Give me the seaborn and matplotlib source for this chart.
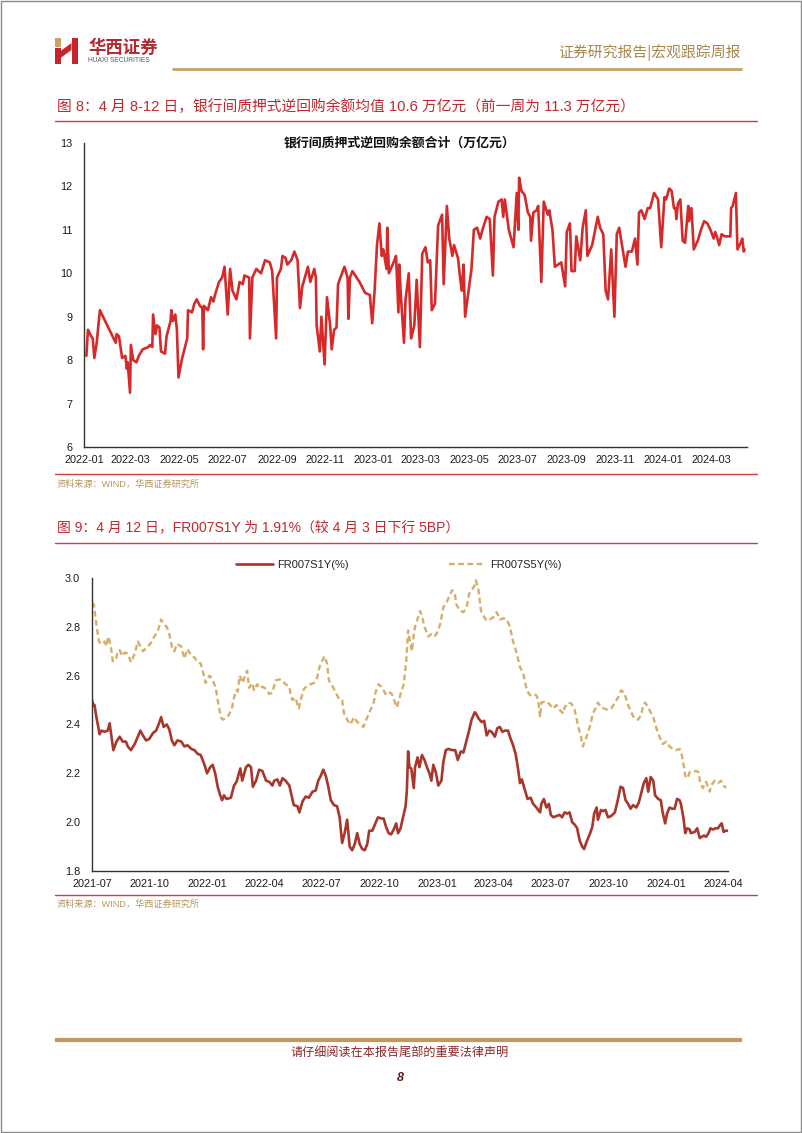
import matplotlib
matplotlib.use("Agg")
import matplotlib.pyplot as plt
import matplotlib.dates as mdates
from matplotlib.patches import Rectangle, Polygon
import seaborn as sns
import pandas as pd
import numpy as np

# ---------------- data: chart 1 (银行间质押式逆回购余额合计, 万亿元) ----------------
repo_dates = [
    "2022-01-04", "2022-01-06", "2022-01-10", "2022-01-12", "2022-01-14", "2022-01-17", "2022-01-21",
    "2022-02-10", "2022-02-11", "2022-02-14", "2022-02-18", "2022-02-22", "2022-02-24", "2022-02-25",
    "2022-02-28", "2022-03-01", "2022-03-04", "2022-03-08", "2022-03-11", "2022-03-16", "2022-03-23",
    "2022-03-25", "2022-03-28", "2022-03-29", "2022-04-01", "2022-04-03", "2022-04-06", "2022-04-08",
    "2022-04-13", "2022-04-15", "2022-04-20", "2022-04-21", "2022-04-23", "2022-04-26", "2022-04-28",
    "2022-04-30", "2022-05-04", "2022-05-11", "2022-05-12", "2022-05-17", "2022-05-20", "2022-05-23",
    "2022-05-27", "2022-05-30", "2022-05-31", "2022-06-01", "2022-06-06", "2022-06-10", "2022-06-13",
    "2022-06-15", "2022-06-20", "2022-06-24", "2022-06-27", "2022-07-01", "2022-07-04", "2022-07-07",
    "2022-07-12", "2022-07-16", "2022-07-20", "2022-07-22", "2022-07-28", "2022-07-29", "2022-08-01",
    "2022-08-06", "2022-08-12", "2022-08-17", "2022-08-23", "2022-08-26", "2022-08-31", "2022-09-01",
    "2022-09-06", "2022-09-08", "2022-09-12", "2022-09-14", "2022-09-19", "2022-09-23", "2022-09-27",
    "2022-09-30", "2022-10-03", "2022-10-10", "2022-10-13", "2022-10-18", "2022-10-20", "2022-10-21",
    "2022-10-25", "2022-10-27", "2022-10-31", "2022-11-03", "2022-11-07", "2022-11-09", "2022-11-12",
    "2022-11-15", "2022-11-17", "2022-11-20", "2022-11-25", "2022-11-29", "2022-11-30", "2022-12-02",
    "2022-12-05", "2022-12-14", "2022-12-21", "2022-12-27", "2022-12-30", "2023-01-02", "2023-01-05",
    "2023-01-08", "2023-01-11", "2023-01-13", "2023-01-17", "2023-01-18", "2023-01-20", "2023-01-27",
    "2023-01-29", "2023-02-01", "2023-02-02", "2023-02-04", "2023-02-08", "2023-02-10", "2023-02-14",
    "2023-02-17", "2023-02-21", "2023-02-24", "2023-02-28", "2023-03-03", "2023-03-07", "2023-03-10",
    "2023-03-13", "2023-03-15", "2023-03-19", "2023-03-23", "2023-03-28", "2023-03-30", "2023-04-03",
    "2023-04-06", "2023-04-10", "2023-04-12", "2023-04-17", "2023-04-20", "2023-04-22", "2023-04-24",
    "2023-04-26", "2023-05-04", "2023-05-07", "2023-05-11", "2023-05-15", "2023-05-17", "2023-05-23",
    "2023-05-27", "2023-05-31", "2023-06-02", "2023-06-07", "2023-06-11", "2023-06-13", "2023-06-15",
    "2023-06-20", "2023-06-26", "2023-06-30", "2023-07-02", "2023-07-03", "2023-07-06", "2023-07-10",
    "2023-07-14", "2023-07-17", "2023-07-18", "2023-07-21", "2023-07-25", "2023-07-27", "2023-07-31",
    "2023-08-03", "2023-08-08", "2023-08-10", "2023-08-14", "2023-08-17", "2023-08-21", "2023-08-25",
    "2023-08-30", "2023-09-01", "2023-09-05", "2023-09-07", "2023-09-11", "2023-09-13", "2023-09-18",
    "2023-09-21", "2023-09-25", "2023-09-27", "2023-10-03", "2023-10-10", "2023-10-13", "2023-10-17",
    "2023-10-20", "2023-10-23", "2023-10-27", "2023-10-31", "2023-11-03", "2023-11-06", "2023-11-10",
    "2023-11-14", "2023-11-17", "2023-11-22", "2023-11-26", "2023-11-29", "2023-12-01", "2023-12-04",
    "2023-12-08", "2023-12-12", "2023-12-15", "2023-12-20", "2023-12-25", "2023-12-29", "2024-01-02",
    "2024-01-04", "2024-01-08", "2024-01-11", "2024-01-14", "2024-01-16", "2024-01-17", "2024-01-19",
    "2024-01-22", "2024-01-25", "2024-01-28", "2024-02-01", "2024-02-02", "2024-02-05", "2024-02-08",
    "2024-02-13", "2024-02-17", "2024-02-21", "2024-02-25", "2024-02-29", "2024-03-04", "2024-03-06",
    "2024-03-08", "2024-03-11", "2024-03-14", "2024-03-18", "2024-03-25", "2024-03-26", "2024-03-28",
    "2024-04-01", "2024-04-03", "2024-04-07", "2024-04-09", "2024-04-11", "2024-04-12",
]
repo_values = [
    8.10, 8.70, 8.55, 8.50, 8.05, 8.40, 9.15,
    8.40, 8.60, 8.55, 8.05, 8.10, 7.80, 7.95,
    7.25, 8.35, 8.00, 7.95, 8.10, 8.25, 8.30,
    8.35, 8.30, 9.05, 8.60, 8.80, 8.75, 8.20,
    8.15, 8.55, 8.90, 9.15, 8.90, 9.05, 8.70,
    7.60, 8.00, 8.50, 9.15, 9.10, 9.30, 9.40,
    9.25, 9.20, 8.25, 9.25, 9.15, 9.45, 9.35,
    9.50, 9.80, 9.90, 10.15, 9.05, 10.10, 9.60,
    9.40, 9.80, 9.75, 9.95, 9.90, 8.50, 9.90,
    10.10, 10.00, 10.30, 10.25, 10.05, 8.50, 9.90,
    10.10, 10.40, 10.35, 10.20, 10.30, 10.50, 10.30,
    9.20, 9.70, 10.15, 9.80, 10.10, 9.90, 8.80,
    8.20, 9.00, 7.90, 9.45, 8.80, 8.25, 8.70,
    8.75, 9.75, 9.90, 10.15, 9.90, 8.95, 9.90,
    10.05, 9.80, 9.55, 9.50, 8.85, 9.60, 10.65,
    11.15, 10.40, 10.55, 10.10, 11.05, 10.00, 10.30,
    10.40, 9.10, 10.20, 9.50, 8.40, 9.40, 10.00,
    8.50, 8.80, 9.85, 8.30, 10.45, 10.60, 10.25,
    10.30, 9.15, 9.30, 11.10, 11.35, 9.75, 11.55,
    10.80, 10.40, 10.65, 10.35, 9.85, 9.60, 10.20,
    9.00, 10.10, 11.00, 11.05, 10.80, 10.95, 11.30,
    11.25, 9.95, 11.30, 11.65, 11.70, 11.30, 11.70,
    11.00, 10.60, 11.85, 11.00, 12.20, 11.90, 11.80,
    11.40, 11.30, 10.75, 11.40, 11.45, 11.55, 9.80,
    11.65, 11.35, 11.45, 11.00, 10.15, 10.20, 10.25,
    9.70, 10.95, 11.15, 10.05, 10.05, 10.85, 10.30,
    11.05, 11.45, 10.40, 10.65, 11.30, 11.05, 10.90,
    9.60, 9.40, 10.55, 9.00, 10.90, 11.05, 10.60,
    10.15, 10.50, 10.50, 10.80, 10.20, 11.40, 11.45,
    11.25, 11.50, 11.50, 11.85, 11.70, 10.60, 11.75,
    11.70, 11.95, 11.90, 11.50, 11.50, 11.25, 11.60,
    11.70, 10.75, 10.70, 11.55, 11.20, 11.50, 10.55,
    10.75, 11.00, 11.20, 11.15, 11.00, 10.80, 10.95,
    10.85, 10.65, 10.90, 10.85, 10.85, 11.50, 11.55,
    11.85, 10.55, 10.70, 10.80, 10.50, 10.55,
]

# ---------------- data: chart 2 (FR007 swaps, %) ----------------
s1y_dates = [
    "2021-07-01", "2021-07-03", "2021-07-05", "2021-07-08", "2021-07-11", "2021-07-13", "2021-07-16",
    "2021-07-21", "2021-07-26", "2021-07-29", "2021-08-01", "2021-08-04", "2021-08-09", "2021-08-14",
    "2021-08-19", "2021-08-24", "2021-08-27", "2021-09-01", "2021-09-07", "2021-09-12", "2021-09-16",
    "2021-09-20", "2021-09-25", "2021-09-30", "2021-10-06", "2021-10-11", "2021-10-15", "2021-10-19",
    "2021-10-23", "2021-10-28", "2021-11-01", "2021-11-05", "2021-11-09", "2021-11-14", "2021-11-20",
    "2021-11-25", "2021-11-30", "2021-12-06", "2021-12-11", "2021-12-16", "2021-12-21", "2021-12-27",
    "2021-12-31", "2022-01-05", "2022-01-09", "2022-01-13", "2022-01-17", "2022-01-21", "2022-01-24",
    "2022-01-27", "2022-01-31", "2022-02-07", "2022-02-12", "2022-02-16", "2022-02-22", "2022-02-25",
    "2022-03-03", "2022-03-07", "2022-03-11", "2022-03-14", "2022-03-19", "2022-03-24", "2022-03-29",
    "2022-04-04", "2022-04-09", "2022-04-14", "2022-04-17", "2022-04-22", "2022-04-26", "2022-04-30",
    "2022-05-05", "2022-05-11", "2022-05-15", "2022-05-18", "2022-05-24", "2022-05-27", "2022-06-01",
    "2022-06-06", "2022-06-11", "2022-06-17", "2022-06-22", "2022-06-26", "2022-06-30", "2022-07-04",
    "2022-07-08", "2022-07-12", "2022-07-16", "2022-07-21", "2022-07-26", "2022-07-30", "2022-08-03",
    "2022-08-07", "2022-08-11", "2022-08-15", "2022-08-19", "2022-08-23", "2022-08-27", "2022-08-31",
    "2022-09-04", "2022-09-08", "2022-09-12", "2022-09-15", "2022-09-20", "2022-09-25", "2022-09-29",
    "2022-10-04", "2022-10-08", "2022-10-12", "2022-10-16", "2022-10-20", "2022-10-25", "2022-10-28",
    "2022-10-31", "2022-11-04", "2022-11-07", "2022-11-12", "2022-11-14", "2022-11-16", "2022-11-18",
    "2022-11-21", "2022-11-25", "2022-11-27", "2022-12-01", "2022-12-04", "2022-12-08", "2022-12-12",
    "2022-12-16", "2022-12-20", "2022-12-23", "2022-12-26", "2022-12-30", "2023-01-03", "2023-01-08",
    "2023-01-11", "2023-01-15", "2023-01-19", "2023-01-25", "2023-01-30", "2023-02-03", "2023-02-08",
    "2023-02-12", "2023-02-17", "2023-02-21", "2023-02-25", "2023-03-02", "2023-03-04", "2023-03-08",
    "2023-03-13", "2023-03-17", "2023-03-21", "2023-03-25", "2023-03-29", "2023-04-03", "2023-04-07",
    "2023-04-11", "2023-04-15", "2023-04-19", "2023-04-24", "2023-04-27", "2023-05-02", "2023-05-06",
    "2023-05-09", "2023-05-13", "2023-05-16", "2023-05-21", "2023-05-25", "2023-05-30", "2023-06-03",
    "2023-06-08", "2023-06-14", "2023-06-16", "2023-06-20", "2023-06-24", "2023-06-28", "2023-07-01",
    "2023-07-05", "2023-07-10", "2023-07-15", "2023-07-19", "2023-07-23", "2023-07-27", "2023-07-31",
    "2023-08-04", "2023-08-08", "2023-08-12", "2023-08-16", "2023-08-20", "2023-08-23", "2023-08-27",
    "2023-09-01", "2023-09-05", "2023-09-08", "2023-09-12", "2023-09-14", "2023-09-19", "2023-09-22",
    "2023-09-26", "2023-09-30", "2023-10-05", "2023-10-11", "2023-10-16", "2023-10-20", "2023-10-24",
    "2023-10-28", "2023-11-01", "2023-11-05", "2023-11-09", "2023-11-14", "2023-11-18", "2023-11-22",
    "2023-11-26", "2023-11-30", "2023-12-03", "2023-12-07", "2023-12-11", "2023-12-14", "2023-12-19",
    "2023-12-23", "2023-12-26", "2023-12-30", "2024-01-02", "2024-01-06", "2024-01-10", "2024-01-14",
    "2024-01-18", "2024-01-22", "2024-01-24", "2024-01-28", "2024-01-31", "2024-02-03", "2024-02-07",
    "2024-02-09", "2024-02-15", "2024-02-19", "2024-02-23", "2024-02-26", "2024-03-01", "2024-03-04",
    "2024-03-08", "2024-03-11", "2024-03-15", "2024-03-19", "2024-03-23", "2024-03-27", "2024-03-29",
    "2024-04-01", "2024-04-04", "2024-04-07",
]
s1y_values = [
    2.50, 2.48, 2.48, 2.43, 2.39, 2.36, 2.375,
    2.37, 2.375, 2.405, 2.35, 2.295, 2.33, 2.35,
    2.33, 2.33, 2.31, 2.295, 2.32, 2.35, 2.375,
    2.355, 2.335, 2.34, 2.365, 2.375, 2.40, 2.43,
    2.39, 2.40, 2.38, 2.335, 2.315, 2.335, 2.33,
    2.31, 2.315, 2.30, 2.295, 2.28, 2.275, 2.235,
    2.20, 2.225, 2.235, 2.20, 2.145, 2.11, 2.09,
    2.11, 2.095, 2.10, 2.15, 2.165, 2.22, 2.17,
    2.225, 2.235, 2.225, 2.145, 2.17, 2.215, 2.21,
    2.17, 2.165, 2.15, 2.17, 2.175, 2.15, 2.18,
    2.17, 2.15, 2.105, 2.07, 2.065, 2.04, 2.085,
    2.105, 2.10, 2.125, 2.13, 2.17, 2.19, 2.215,
    2.19, 2.145, 2.09, 2.07, 2.065, 2.02, 1.915,
    1.955, 2.01, 1.90, 1.885, 1.91, 1.955, 1.91,
    1.89, 1.885, 1.91, 1.965, 1.965, 1.995, 2.02,
    2.015, 2.015, 1.98, 1.955, 1.95, 1.975, 1.995,
    1.955, 1.975, 2.01, 2.065, 2.13, 2.29, 2.225,
    2.22, 2.14, 2.225, 2.265, 2.225, 2.275, 2.255,
    2.225, 2.20, 2.17, 2.235, 2.205, 2.15, 2.17,
    2.245, 2.295, 2.30, 2.295, 2.295, 2.255, 2.29,
    2.285, 2.335, 2.375, 2.42, 2.45, 2.445, 2.425,
    2.41, 2.415, 2.355, 2.375, 2.37, 2.35, 2.385,
    2.39, 2.37, 2.375, 2.375, 2.35, 2.315, 2.28,
    2.235, 2.16, 2.175, 2.13, 2.095, 2.10, 2.075,
    2.06, 2.04, 2.075, 2.095, 2.06, 2.075, 2.03,
    2.02, 2.025, 2.03, 2.02, 2.04, 2.035, 2.04,
    2.00, 1.99, 1.975, 1.925, 1.90, 1.89, 1.92,
    1.95, 1.98, 2.035, 2.06, 2.01, 2.05, 2.045,
    2.05, 2.02, 2.025, 2.04, 2.095, 2.145, 2.14,
    2.09, 2.075, 2.055, 2.07, 2.06, 2.08, 2.12,
    2.16, 2.18, 2.125, 2.185, 2.17, 2.11, 2.095,
    2.09, 2.04, 1.995, 2.035, 2.06, 2.055, 2.055,
    2.095, 2.09, 2.075, 2.02, 1.955, 1.975, 1.97,
    1.955, 1.96, 1.975, 1.935, 1.94, 1.945, 1.94,
    1.955, 1.975, 1.97, 1.975, 1.975, 1.99, 1.995,
    1.96, 1.965, 1.965,
]

s5y_dates = [
    "2021-07-01", "2021-07-04", "2021-07-08", "2021-07-12", "2021-07-16", "2021-07-21", "2021-07-24",
    "2021-07-27", "2021-07-31", "2021-08-03", "2021-08-08", "2021-08-11", "2021-08-14", "2021-08-18",
    "2021-08-22", "2021-08-27", "2021-09-01", "2021-09-07", "2021-09-12", "2021-09-16", "2021-09-20",
    "2021-09-28", "2021-10-03", "2021-10-08", "2021-10-14", "2021-10-19", "2021-10-23", "2021-10-28",
    "2021-11-01", "2021-11-05", "2021-11-09", "2021-11-13", "2021-11-20", "2021-11-25", "2021-11-30",
    "2021-12-06", "2021-12-11", "2021-12-16", "2021-12-21", "2021-12-24", "2021-12-29", "2022-01-04",
    "2022-01-06", "2022-01-10", "2022-01-14", "2022-01-17", "2022-01-22", "2022-01-25", "2022-01-30",
    "2022-02-04", "2022-02-09", "2022-02-11", "2022-02-15", "2022-02-18", "2022-02-21", "2022-02-26",
    "2022-03-02", "2022-03-05", "2022-03-08", "2022-03-13", "2022-03-16", "2022-03-21", "2022-03-24",
    "2022-03-29", "2022-04-04", "2022-04-09", "2022-04-14", "2022-04-19", "2022-04-25", "2022-04-30",
    "2022-05-05", "2022-05-11", "2022-05-13", "2022-05-16", "2022-05-21", "2022-05-24", "2022-05-26",
    "2022-05-29", "2022-06-01", "2022-06-03", "2022-06-09", "2022-06-14", "2022-06-19", "2022-06-24",
    "2022-06-28", "2022-07-02", "2022-07-06", "2022-07-10", "2022-07-13", "2022-07-18", "2022-07-24",
    "2022-07-29", "2022-08-03", "2022-08-06", "2022-08-11", "2022-08-16", "2022-08-22", "2022-08-27",
    "2022-09-01", "2022-09-06", "2022-09-12", "2022-09-17", "2022-09-22", "2022-09-25", "2022-09-30",
    "2022-10-06", "2022-10-11", "2022-10-16", "2022-10-21", "2022-10-29", "2022-11-04", "2022-11-09",
    "2022-11-13", "2022-11-16", "2022-11-19", "2022-11-22", "2022-11-25", "2022-11-27", "2022-12-02",
    "2022-12-05", "2022-12-08", "2022-12-12", "2022-12-18", "2022-12-23", "2022-12-28", "2023-01-01",
    "2023-01-06", "2023-01-11", "2023-01-17", "2023-01-25", "2023-01-29", "2023-02-01", "2023-02-07",
    "2023-02-12", "2023-02-17", "2023-02-21", "2023-02-25", "2023-03-02", "2023-03-04", "2023-03-08",
    "2023-03-12", "2023-03-16", "2023-03-21", "2023-03-26", "2023-04-01", "2023-04-06", "2023-04-11",
    "2023-04-17", "2023-04-22", "2023-04-27", "2023-05-02", "2023-05-08", "2023-05-13", "2023-05-18",
    "2023-05-24", "2023-05-29", "2023-06-03", "2023-06-08", "2023-06-11", "2023-06-14", "2023-06-16",
    "2023-06-24", "2023-06-30", "2023-07-05", "2023-07-10", "2023-07-15", "2023-07-21", "2023-07-23",
    "2023-07-29", "2023-08-03", "2023-08-08", "2023-08-13", "2023-08-18", "2023-08-21", "2023-08-27",
    "2023-09-01", "2023-09-06", "2023-09-11", "2023-09-14", "2023-09-19", "2023-09-24", "2023-09-30",
    "2023-10-05", "2023-10-11", "2023-10-16", "2023-10-21", "2023-10-26", "2023-11-01", "2023-11-06",
    "2023-11-11", "2023-11-17", "2023-11-22", "2023-11-25", "2023-11-28", "2023-12-03", "2023-12-05",
    "2023-12-11", "2023-12-16", "2023-12-21", "2023-12-26", "2024-01-01", "2024-01-06", "2024-01-11",
    "2024-01-16", "2024-01-22", "2024-01-25", "2024-01-28", "2024-01-31", "2024-02-04", "2024-02-07",
    "2024-02-12", "2024-02-17", "2024-02-21", "2024-02-24", "2024-02-28", "2024-03-04", "2024-03-10",
    "2024-03-12", "2024-03-18", "2024-03-23", "2024-03-28", "2024-04-01", "2024-04-05",
]
s5y_values = [
    2.90, 2.89, 2.81, 2.74, 2.73, 2.74, 2.72,
    2.76, 2.72, 2.66, 2.665, 2.70, 2.705, 2.68,
    2.695, 2.69, 2.655, 2.69, 2.74, 2.72, 2.70,
    2.72, 2.735, 2.76, 2.785, 2.83, 2.81, 2.80,
    2.77, 2.72, 2.70, 2.73, 2.72, 2.67, 2.71,
    2.68, 2.675, 2.655, 2.65, 2.62, 2.57, 2.60,
    2.595, 2.575, 2.55, 2.50, 2.43, 2.42, 2.425,
    2.44, 2.47, 2.50, 2.54, 2.535, 2.60, 2.57,
    2.61, 2.62, 2.55, 2.57, 2.54, 2.565, 2.55,
    2.555, 2.545, 2.525, 2.53, 2.58, 2.585, 2.58,
    2.565, 2.555, 2.525, 2.50, 2.51, 2.48, 2.465,
    2.50, 2.525, 2.545, 2.56, 2.565, 2.57, 2.59,
    2.635, 2.66, 2.68, 2.65, 2.58, 2.56, 2.53,
    2.505, 2.50, 2.445, 2.42, 2.40, 2.43, 2.41,
    2.40, 2.39, 2.43, 2.46, 2.485, 2.53, 2.565,
    2.55, 2.525, 2.535, 2.525, 2.47, 2.525, 2.565,
    2.66, 2.785, 2.74, 2.70, 2.77, 2.80, 2.84,
    2.865, 2.845, 2.80, 2.76, 2.77, 2.76, 2.775,
    2.81, 2.88, 2.905, 2.95, 2.94, 2.89, 2.865,
    2.86, 2.88, 2.935, 2.95, 2.97, 2.99, 2.95,
    2.865, 2.845, 2.825, 2.83, 2.84, 2.86, 2.83,
    2.835, 2.83, 2.80, 2.74, 2.69, 2.635, 2.61,
    2.54, 2.52, 2.525, 2.52, 2.50, 2.43, 2.49,
    2.495, 2.48, 2.465, 2.48, 2.46, 2.445, 2.47,
    2.49, 2.485, 2.46, 2.40, 2.35, 2.31, 2.35,
    2.39, 2.445, 2.47, 2.49, 2.47, 2.465, 2.46,
    2.465, 2.49, 2.51, 2.54, 2.53, 2.48, 2.45,
    2.425, 2.42, 2.44, 2.48, 2.49, 2.47, 2.46,
    2.43, 2.385, 2.35, 2.32, 2.33, 2.31, 2.30,
    2.295, 2.30, 2.28, 2.24, 2.19, 2.18, 2.205,
    2.205, 2.21, 2.205, 2.16, 2.14, 2.165, 2.125,
    2.15, 2.17, 2.16, 2.17, 2.15, 2.14,
]

ytick1 = [6, 7, 8, 9, 10, 11, 12, 13]
ytick2 = [1.8, 2.0, 2.2, 2.4, 2.6, 2.8, 3.0]
legend_labels = ["FR007S1Y(%)", "FR007S5Y(%)"]

title_fig8 = "图 8：4 月 8-12 日，银行间质押式逆回购余额均值 10.6 万亿元（前一周为 11.3 万亿元）"
title_inner1 = "银行间质押式逆回购余额合计（万亿元）"
title_fig9 = "图 9：4 月 12 日，FR007S1Y 为 1.91%（较 4 月 3 日下行 5BP）"
source_text = "资料来源：WIND，华西证券研究所"
header_right = "证券研究报告|宏观跟踪周报"
footer_text = "请仔细阅读在本报告尾部的重要法律声明"
page_no = "8"

# ---------------- style ----------------
sns.set_theme(style="white")
plt.rcParams["font.family"] = ["Liberation Sans", "Noto Sans CJK SC", "DejaVu Sans"]
plt.rcParams["axes.unicode_minus"] = False

W, H = 802, 1133
fig = plt.figure(figsize=(W / 100, H / 100), dpi=100)
fig.patch.set_facecolor("white")

RED_TITLE = "#c2272d"
RED_RULE = "#d23c3f"
GOLD = "#c6a266"
SRC = "#b5955d"

# decoration layer in pixel coordinates
deco = fig.add_axes([0, 0, 1, 1], zorder=0)
deco.set_xlim(0, W)
deco.set_ylim(H, 0)
deco.axis("off")

deco.add_patch(Rectangle((0.5, 0.5), W - 1.5, H - 1.5, fill=False, edgecolor="#8a8a8a", lw=1.0))

# logo
deco.add_patch(Rectangle((55, 38), 5.5, 9, facecolor="#c9a36a", edgecolor="none"))
deco.add_patch(Rectangle((55, 48), 5.5, 16, facecolor="#c8242b", edgecolor="none"))
deco.add_patch(Rectangle((71.5, 38), 6, 26, facecolor="#c8242b", edgecolor="none"))
deco.add_patch(Polygon([(60.5, 51), (71.5, 43), (71.5, 50), (60.5, 58)], closed=True,
                       facecolor="#c8242b", edgecolor="none"))
deco.text(88, 48, "华西证券", fontsize=12.5, fontweight="bold", color="#b2282c",
          family=["Noto Sans CJK SC"], va="center", ha="left")
deco.text(88.5, 61, "HUAXI SECURITIES", fontsize=4.8, color="#555555", va="center", ha="left")
deco.text(741, 53, header_right, fontsize=10.7, color="#a8874e", va="center", ha="right",
          family=["Noto Sans CJK SC", "DejaVu Sans"])
deco.plot([172, 742], [69, 69], color=GOLD, lw=2.0, solid_capstyle="butt")

# figure 8 header
deco.text(57, 107, title_fig8, fontsize=10.6, color=RED_TITLE, va="center", ha="left")
deco.plot([55, 757], [121, 121], color=RED_RULE, lw=1.0)
deco.plot([55, 757], [474, 474], color=RED_RULE, lw=1.0)
deco.text(57, 484, source_text, fontsize=6.6, color=SRC, va="center", ha="left")

# figure 9 header
deco.text(57, 527, title_fig9, fontsize=10.0, color=RED_TITLE, va="center", ha="left")
deco.plot([55, 757], [543, 543], color=RED_RULE, lw=1.0)
deco.plot([55, 757], [895, 895], color=RED_RULE, lw=1.0)
deco.text(57, 904, source_text, fontsize=6.6, color=SRC, va="center", ha="left")

# footer
deco.plot([55, 742], [1040, 1040], color="#c09a5c", lw=3.0, solid_capstyle="butt")
deco.text(400, 1053, footer_text, fontsize=8.7, color="#8b2525", va="center", ha="center")
deco.text(400, 1078, page_no, fontsize=9, color="#6b1a1a", va="center", ha="center",
          fontweight="bold", fontstyle="italic")


def px_axes(left, top, right, bottom):
    return [left / W, 1 - bottom / H, (right - left) / W, (bottom - top) / H]


def style_axes(ax, fs):
    for s in ["top", "right"]:
        ax.spines[s].set_visible(False)
    for s in ["left", "bottom"]:
        ax.spines[s].set_color("#333333")
        ax.spines[s].set_linewidth(1.0)
    ax.tick_params(axis="both", direction="in", length=3.5, width=0.9, color="#333333",
                   labelsize=fs, labelcolor="#1a1a1a")
    ax.tick_params(axis="x", pad=5.5)
    ax.tick_params(axis="y", pad=8.5)
    ax.set_xlabel("")
    ax.set_ylabel("")
    ax.grid(False)
    ax.patch.set_alpha(0)


# ---------------- chart 1 ----------------
df1 = pd.DataFrame({"date": pd.to_datetime(repo_dates), "value": repo_values})
ax1 = fig.add_axes(px_axes(84, 143, 747, 447), zorder=2)
sns.lineplot(data=df1, x="date", y="value", ax=ax1, color="#d62a2a", linewidth=1.9)
ax1.set_xlim(pd.Timestamp("2022-01-01"), pd.Timestamp("2024-04-15"))
ax1.set_ylim(6, 13)
ax1.set_yticks(ytick1)
ax1.set_yticklabels([str(v) for v in ytick1])
ax1.xaxis.set_major_locator(mdates.MonthLocator(bymonth=[1, 3, 5, 7, 9, 11]))
ax1.xaxis.set_major_formatter(mdates.DateFormatter("%Y-%m"))
style_axes(ax1, 7.8)
ax1.text((400 - 84) / 663, 1.0, title_inner1, transform=ax1.transAxes, ha="center", va="center",
         fontsize=9.3, fontweight="bold", color="#111111")

# ---------------- chart 2 ----------------
df_s1 = pd.DataFrame({"date": pd.to_datetime(s1y_dates), "value": s1y_values})
df_s5 = pd.DataFrame({"date": pd.to_datetime(s5y_dates), "value": s5y_values})
ax2 = fig.add_axes(px_axes(92, 578, 728, 871), zorder=2)
sns.lineplot(data=df_s5, x="date", y="value", ax=ax2, color="#d6ae68", linewidth=1.7,
             linestyle=(0, (2.4, 1.5)), label=legend_labels[1])
sns.lineplot(data=df_s1, x="date", y="value", ax=ax2, color="#a8362b", linewidth=1.9,
             label=legend_labels[0])
ax2.set_xlim(pd.Timestamp("2021-07-01"), pd.Timestamp("2024-04-08"))
ax2.set_ylim(1.8, 3.0)
ax2.set_yticks(ytick2)
ax2.set_yticklabels([f"{v:.1f}" for v in ytick2])
ax2.xaxis.set_major_locator(mdates.MonthLocator(bymonth=[1, 4, 7, 10]))
ax2.xaxis.set_major_formatter(mdates.DateFormatter("%Y-%m"))
style_axes(ax2, 7.8)
handles, labels = ax2.get_legend_handles_labels()
if ax2.get_legend() is not None:
    ax2.get_legend().remove()
order = [labels.index(legend_labels[0]), labels.index(legend_labels[1])]
fig.legend([handles[i] for i in order], [labels[i] for i in order],
           loc="center", bbox_to_anchor=(399 / W, 1 - 565 / H), ncol=2, frameon=False,
           fontsize=8, handlelength=3.3, columnspacing=9.0, handletextpad=0.4)

fig.savefig("out.png", dpi=100, facecolor="white")
